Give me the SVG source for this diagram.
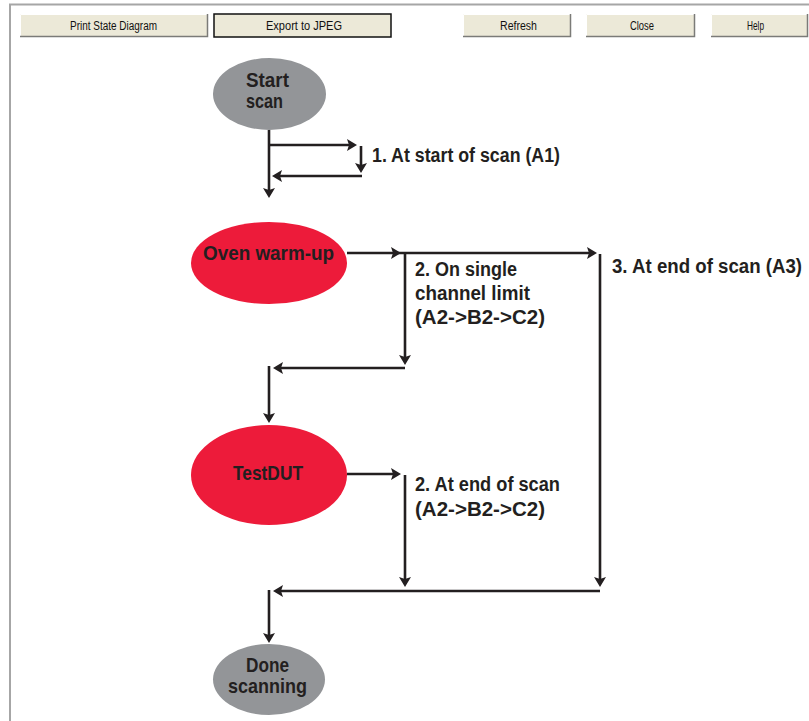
<svg xmlns="http://www.w3.org/2000/svg" width="809" height="721" viewBox="0 0 809 721">
<style>
.btn{fill:#ECE9D8;stroke:none}
.sh{fill:none;stroke:#7b7b78;stroke-width:1.5}
.hl{fill:none;stroke:#ffffff;stroke-width:1}
.bt{font-family:"Liberation Sans",Arial,sans-serif;font-size:12px;fill:#111;text-anchor:start}
.lbl{font-family:"Liberation Sans",Arial,sans-serif;font-weight:bold;font-size:19.5px;fill:#231f20}
.nt{font-family:"Liberation Sans",Arial,sans-serif;font-weight:bold;font-size:21px;fill:#231f20}
.c{fill:none;stroke:#231f20;stroke-width:2.6}
.gray{fill:#939598}
.red{fill:#ED1B3A}
</style>
<defs>
<marker id="ah" markerUnits="userSpaceOnUse" markerWidth="12" markerHeight="13" refX="7" refY="6" orient="auto" overflow="visible">
<path d="M0,0 L10,6 L0,12 L2,6 z" fill="#231f20"/>
</marker>
</defs>
<rect width="809" height="721" fill="#ffffff"/>
<g id="frame">
<path d="M10,721 V4.5 H809" fill="none" stroke="#a6a6a6" stroke-width="2"/>
</g>
<g id="toolbar">
<g id="btn-print">
<rect class="btn" x="20" y="14" width="188" height="23"/>
<path class="hl" d="M20.5,36 V14.5 H207"/>
<path class="sh" d="M20,36.5 H207.5 V14"/>
<text class="bt" x="70" y="30" textLength="87" lengthAdjust="spacingAndGlyphs">Print State Diagram</text>
</g>
<g id="btn-export">
<rect class="btn" x="214" y="14" width="177" height="23" style="stroke:#111;stroke-width:1.5"/>
<text class="bt" x="266" y="30" textLength="76" lengthAdjust="spacingAndGlyphs">Export to JPEG</text>
</g>
<g id="btn-refresh">
<rect class="btn" x="463" y="14" width="108" height="23"/>
<path class="hl" d="M463.5,36 V14.5 H570"/>
<path class="sh" d="M463,36.5 H570.5 V14"/>
<text class="bt" x="500" y="30" textLength="37" lengthAdjust="spacingAndGlyphs">Refresh</text>
</g>
<g id="btn-close">
<rect class="btn" x="586" y="14" width="109" height="23"/>
<path class="hl" d="M586.5,36 V14.5 H694"/>
<path class="sh" d="M586,36.5 H694.5 V14"/>
<text class="bt" x="630" y="30" textLength="24" lengthAdjust="spacingAndGlyphs">Close</text>
</g>
<g id="btn-help">
<rect class="btn" x="711" y="14" width="97" height="23"/>
<path class="hl" d="M711.5,36 V14.5 H807"/>
<path class="sh" d="M711,36.5 H807.5 V14"/>
<text class="bt" x="747" y="30" textLength="17" lengthAdjust="spacingAndGlyphs">Help</text>
</g>
</g>
<g id="connectors">
<path class="c" d="M269,130 V195" marker-end="url(#ah)"/>
<path class="c" d="M269,145 H354" marker-end="url(#ah)"/>
<path class="c" d="M361,146 V170" marker-end="url(#ah)"/>
<path class="c" d="M362,176 H275" marker-end="url(#ah)"/>
<path class="c" d="M347,253 H398" marker-end="url(#ah)"/>
<path class="c" d="M398,253 H594" marker-end="url(#ah)"/>
<path class="c" d="M405,253 V362" marker-end="url(#ah)"/>
<path class="c" d="M405,368 H276" marker-end="url(#ah)"/>
<path class="c" d="M269,366 V420" marker-end="url(#ah)"/>
<path class="c" d="M600,254 V584" marker-end="url(#ah)"/>
<path class="c" d="M347,474 H398" marker-end="url(#ah)"/>
<path class="c" d="M405,475 V584" marker-end="url(#ah)"/>
<path class="c" d="M600,591 H276" marker-end="url(#ah)"/>
<path class="c" d="M269,590 V640" marker-end="url(#ah)"/>
</g>
<g id="labels">
<text class="lbl" x="372" y="162" textLength="188" lengthAdjust="spacingAndGlyphs">1. At start of scan (A1)</text>
<text class="lbl" x="415" y="276" textLength="102" lengthAdjust="spacingAndGlyphs">2. On single</text>
<text class="lbl" x="415" y="300" textLength="115" lengthAdjust="spacingAndGlyphs">channel limit</text>
<text class="lbl" x="415" y="324" textLength="130" lengthAdjust="spacingAndGlyphs">(A2-&gt;B2-&gt;C2)</text>
<text class="lbl" x="612" y="273" textLength="190" lengthAdjust="spacingAndGlyphs">3. At end of scan (A3)</text>
<text class="lbl" x="415" y="491" textLength="145" lengthAdjust="spacingAndGlyphs">2. At end of scan</text>
<text class="lbl" x="415" y="516" textLength="130" lengthAdjust="spacingAndGlyphs">(A2-&gt;B2-&gt;C2)</text>
</g>
<g id="start-scan">
<ellipse class="gray" cx="269.5" cy="94" rx="56.5" ry="36"/>
<text class="nt" x="246" y="87" textLength="43" lengthAdjust="spacingAndGlyphs">Start</text>
<text class="nt" x="246" y="108" textLength="37" lengthAdjust="spacingAndGlyphs">scan</text>
</g>
<g id="oven-warm-up">
<ellipse class="red" cx="269" cy="263" rx="78" ry="41"/>
<text class="nt" x="203" y="260" textLength="131" lengthAdjust="spacingAndGlyphs">Oven warm-up</text>
</g>
<g id="testdut">
<ellipse class="red" cx="269" cy="475" rx="78" ry="50"/>
<text class="nt" x="233" y="480" textLength="70" lengthAdjust="spacingAndGlyphs">TestDUT</text>
</g>
<g id="done-scanning">
<ellipse class="gray" cx="269" cy="679.5" rx="56" ry="35.5"/>
<text class="nt" x="246" y="672" textLength="43" lengthAdjust="spacingAndGlyphs">Done</text>
<text class="nt" x="228" y="693" textLength="79" lengthAdjust="spacingAndGlyphs">scanning</text>
</g>
</svg>
